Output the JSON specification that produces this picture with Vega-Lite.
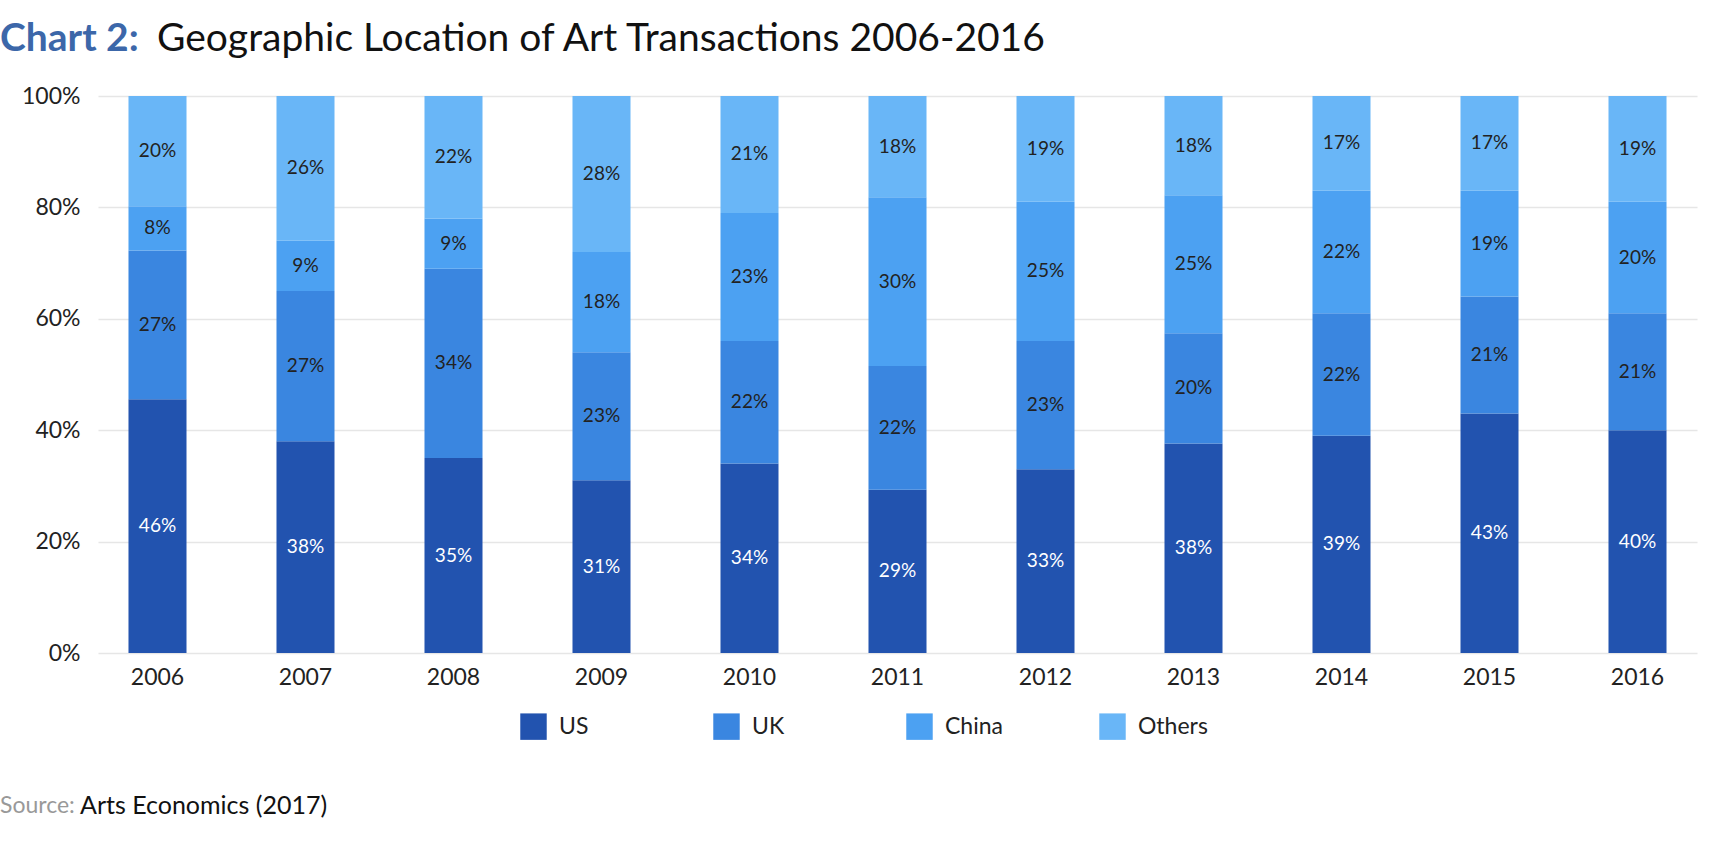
{
  "$schema": "https://vega.github.io/schema/vega-lite/v6.json",
  "background": "white",
  "padding": {"left": 0, "top": 20, "right": 20, "bottom": 0},
  "config": {
    "font": "Lato",
    "view": {"stroke": null},
    "concat": {"spacing": 0},
    "legend": {
      "direction": "horizontal",
      "columns": 4,
      "gridAlign": "all",
      "columnPadding": 84,
      "symbolType": "square",
      "symbolSize": 700,
      "symbolStrokeWidth": 0,
      "symbolOpacity": 1,
      "labelFont": "Lato",
      "labelFontSize": 23,
      "labelColor": "#222222",
      "labelOffset": 12
    }
  },
  "data": {
    "values": [
      {"year": "2006", "region": "US", "value": 0.46},
      {"year": "2006", "region": "UK", "value": 0.27},
      {"year": "2006", "region": "China", "value": 0.08},
      {"year": "2006", "region": "Others", "value": 0.20},
      {"year": "2007", "region": "US", "value": 0.38},
      {"year": "2007", "region": "UK", "value": 0.27},
      {"year": "2007", "region": "China", "value": 0.09},
      {"year": "2007", "region": "Others", "value": 0.26},
      {"year": "2008", "region": "US", "value": 0.35},
      {"year": "2008", "region": "UK", "value": 0.34},
      {"year": "2008", "region": "China", "value": 0.09},
      {"year": "2008", "region": "Others", "value": 0.22},
      {"year": "2009", "region": "US", "value": 0.31},
      {"year": "2009", "region": "UK", "value": 0.23},
      {"year": "2009", "region": "China", "value": 0.18},
      {"year": "2009", "region": "Others", "value": 0.28},
      {"year": "2010", "region": "US", "value": 0.34},
      {"year": "2010", "region": "UK", "value": 0.22},
      {"year": "2010", "region": "China", "value": 0.23},
      {"year": "2010", "region": "Others", "value": 0.21},
      {"year": "2011", "region": "US", "value": 0.29},
      {"year": "2011", "region": "UK", "value": 0.22},
      {"year": "2011", "region": "China", "value": 0.30},
      {"year": "2011", "region": "Others", "value": 0.18},
      {"year": "2012", "region": "US", "value": 0.33},
      {"year": "2012", "region": "UK", "value": 0.23},
      {"year": "2012", "region": "China", "value": 0.25},
      {"year": "2012", "region": "Others", "value": 0.19},
      {"year": "2013", "region": "US", "value": 0.38},
      {"year": "2013", "region": "UK", "value": 0.20},
      {"year": "2013", "region": "China", "value": 0.25},
      {"year": "2013", "region": "Others", "value": 0.18},
      {"year": "2014", "region": "US", "value": 0.39},
      {"year": "2014", "region": "UK", "value": 0.22},
      {"year": "2014", "region": "China", "value": 0.22},
      {"year": "2014", "region": "Others", "value": 0.17},
      {"year": "2015", "region": "US", "value": 0.43},
      {"year": "2015", "region": "UK", "value": 0.21},
      {"year": "2015", "region": "China", "value": 0.19},
      {"year": "2015", "region": "Others", "value": 0.17},
      {"year": "2016", "region": "US", "value": 0.40},
      {"year": "2016", "region": "UK", "value": 0.21},
      {"year": "2016", "region": "China", "value": 0.20},
      {"year": "2016", "region": "Others", "value": 0.19}
    ]
  },
  "title": {
    "text": "Arts Economics (2017)",
    "orient": "bottom",
    "anchor": "start",
    "frame": "bounds",
    "font": "Lato",
    "fontSize": 25,
    "fontWeight": "normal",
    "color": "#111111",
    "offset": 0,
    "dx": 80,
    "dy": -24
  },
  "resolve": {"scale": {"color": "independent"}, "legend": {"color": "independent"}},
  "vconcat": [
    {
      "title": {
        "text": "Source:",
        "orient": "bottom",
        "anchor": "start",
        "frame": "bounds",
        "font": "Lato",
        "fontSize": 23,
        "fontWeight": "normal",
        "color": "#999999",
        "offset": 55
      },
      "resolve": {"scale": {"color": "independent"}, "legend": {"color": "independent"}},
      "vconcat": [
        {
          "title": {
            "text": "Geographic Location of Art Transactions 2006-2016",
            "anchor": "start",
            "frame": "bounds",
            "font": "Lato",
            "fontSize": 39,
            "fontWeight": "normal",
            "color": "#111111",
            "offset": 0,
            "dx": 157,
            "dy": 39
          },
          "resolve": {"scale": {"color": "independent"}, "legend": {"color": "independent"}},
          "vconcat": [
            {
              "title": {
                "text": "Chart 2:",
                "anchor": "start",
                "frame": "group",
                "font": "Lato",
                "fontSize": 39,
                "fontWeight": "bold",
                "color": "#3C67A9",
                "offset": 26,
                "dx": -98
              },
              "width": 1599,
              "height": 557,
              "transform": [
                {"stack": "value", "groupby": ["year"], "offset": "normalize", "as": ["v0", "v1"]}
              ],
              "encoding": {
                "x": {
                  "field": "year",
                  "type": "nominal",
                  "sort": "ascending",
                  "scale": {"paddingInner": 0.608, "paddingOuter": 0.206},
                  "axis": {
                    "title": null,
                    "labelAngle": 0,
                    "labelFont": "Lato",
                    "labelFontSize": 23,
                    "labelColor": "#222222",
                    "labelPadding": 13,
                    "ticks": false,
                    "domain": false,
                    "grid": false
                  }
                }
              },
              "layer": [
                {
                  "mark": {"type": "bar"},
                  "encoding": {
                    "y": {
                      "field": "v0",
                      "type": "quantitative",
                      "scale": {"domain": [0, 1], "nice": false},
                      "axis": {
                        "title": null,
                        "values": [0, 0.2, 0.4, 0.6, 0.8, 1],
                        "format": ".0%",
                        "labelFont": "Lato",
                        "labelFontSize": 23,
                        "labelColor": "#222222",
                        "labelPadding": 18,
                        "ticks": false,
                        "domain": false,
                        "grid": true,
                        "gridColor": "#e6e6e6",
                        "gridWidth": 1.5
                      }
                    },
                    "y2": {"field": "v1"},
                    "color": {
                      "field": "region",
                      "type": "nominal",
                      "sort": ["US", "UK", "China", "Others"],
                      "scale": {
                        "domain": ["US", "UK", "China", "Others"],
                        "range": ["#2253AF", "#3A86E0", "#4CA1F2", "#69B6F7"]
                      },
                      "legend": {"title": null, "orient": "none", "legendX": 422, "legendY": 617}
                    }
                  }
                },
                {
                  "transform": [
                    {"fold": ["v0", "v1"], "as": ["k", "pos"]},
                    {"aggregate": [{"op": "mean", "field": "pos", "as": "mid"}], "groupby": ["year", "region", "value"]}
                  ],
                  "mark": {"type": "text", "font": "Lato", "fontSize": 19, "baseline": "middle", "align": "center"},
                  "encoding": {
                    "y": {"field": "mid", "type": "quantitative"},
                    "text": {"field": "value", "type": "quantitative", "format": ".0%"},
                    "color": {
                      "condition": {"test": "datum.region === 'US'", "value": "#ffffff"},
                      "value": "#222222"
                    }
                  }
                }
              ]
            }
          ]
        }
      ]
    }
  ]
}
